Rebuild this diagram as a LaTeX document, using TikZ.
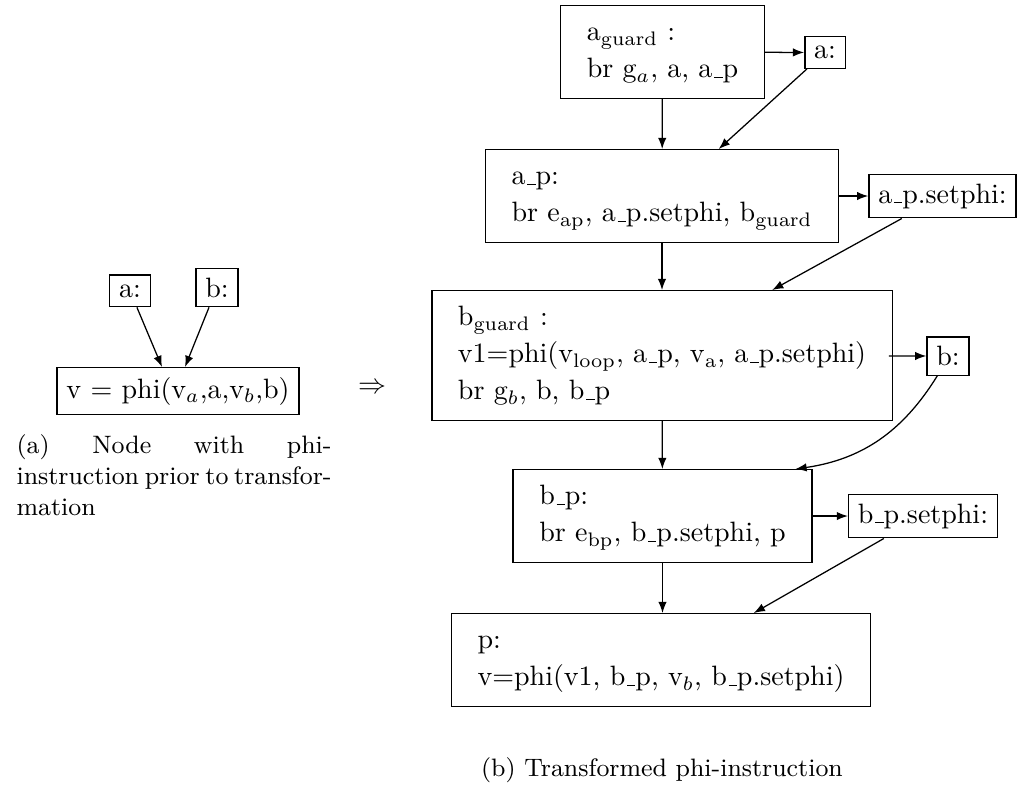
\documentclass[tikz,border=0pt]{standalone}
\usetikzlibrary{calc,arrows.meta}
% low rule used as underscore in block names
\newcommand\us{\leavevmode\kern.06em\vbox{\hrule width.3em}}
\newlength\capw
\setlength\capw{112.5pt}
\renewcommand\arraystretch{1.1}
\begin{document}
\begin{tikzpicture}[x=0.35714pt,y=-0.35714pt,
  box/.style={draw,line width=0.5pt,inner sep=3.33pt},
  arr/.style={-{Latex[length=4pt,width=3pt]},line width=0.45pt}]
\useasboundingbox (0,0) rectangle (1021,789);

% ---- left: phi node before the transformation ----
\node[box,anchor=base] (la) at (130,297) {a:};
\node[box,anchor=base] (lb) at (217,297) {b:};
\node[box] (phi) at (178,391) {v = phi(v$_a$,a,v$_b$,b)};
\draw[arr] (la) -- ($(phi.north)+(-16,0)$);
\draw[arr] (lb) -- ($(phi.north)+(7,0)$);
\node (impl) at (372,388) {$\Rightarrow$};
\node[anchor=north west,inner sep=0pt,align=left,font=\small] (capa) at (16,434)
  {\makebox[\capw][s]{(a) Node with phi-}\\\makebox[\capw][s]{instruction prior to transfor-}\\mation};

% ---- right: transformed blocks ----
\node[box] (ag) at (662.5,52) {\begin{tabular}{l}a$_{\mathrm{guard}}$ :\\ br g$_a$, a, a\us p\end{tabular}};
\node[box] (ra) at (825,52.5) {a:};
\node[box] (ap) at (662,196) {\begin{tabular}{l}a\us p:\\ br e$_{\mathrm{ap}}$, a\us p.setphi, b$_{\mathrm{guard}}$\end{tabular}};
\node[box] (aps) at (942.5,196) {a\us p.setphi:};
\node[box] (bg) at (662,355.5) {\begin{tabular}{l}b$_{\mathrm{guard}}$ :\\ v1=phi(v$_{\mathrm{loop}}$, a\us p, v$_{\mathrm{a}}$, a\us p.setphi)\\ br g$_b$, b, b\us p\end{tabular}};
\node[box] (rb) at (948,356) {b:};
\node[box] (bp) at (662.5,516) {\begin{tabular}{l}b\us p:\\ br e$_{\mathrm{bp}}$, b\us p.setphi, p\end{tabular}};
\node[box] (bps) at (923,516) {b\us p.setphi:};
\node[box] (pp) at (661,660) {\begin{tabular}{l}p:\\ v=phi(v1, b\us p, v$_b$, b\us p.setphi)\end{tabular}};
\node[font=\small] (capb) at (662,770) {(b) Transformed phi-instruction};

% control flow down the chain
\draw[arr] (ag) -- (ap);
\draw[arr] (ap) -- (bg);
\draw[arr] (bg) -- (bp);
\draw[arr] (bp.south) -- (bp.south |- pp.north);
% side blocks
\draw[arr] (ag) -- (ra);
\draw[arr] (ap) -- (aps);
\draw[arr,shorten <=-1.4pt] (bg) -- (rb);
\draw[arr] (bp) -- (bps);
\draw[arr] (ra) -- ($(ap.north west)+(234,0)$);
\draw[arr] (aps) -- ($(bg.north west)+(341,0)$);
\draw[arr] (rb) to[bend left=25] ($(bp.north west)+(283,0)$);
\draw[arr] (bps) -- ($(pp.north west)+(303,0)$);
\end{tikzpicture}
\end{document}
